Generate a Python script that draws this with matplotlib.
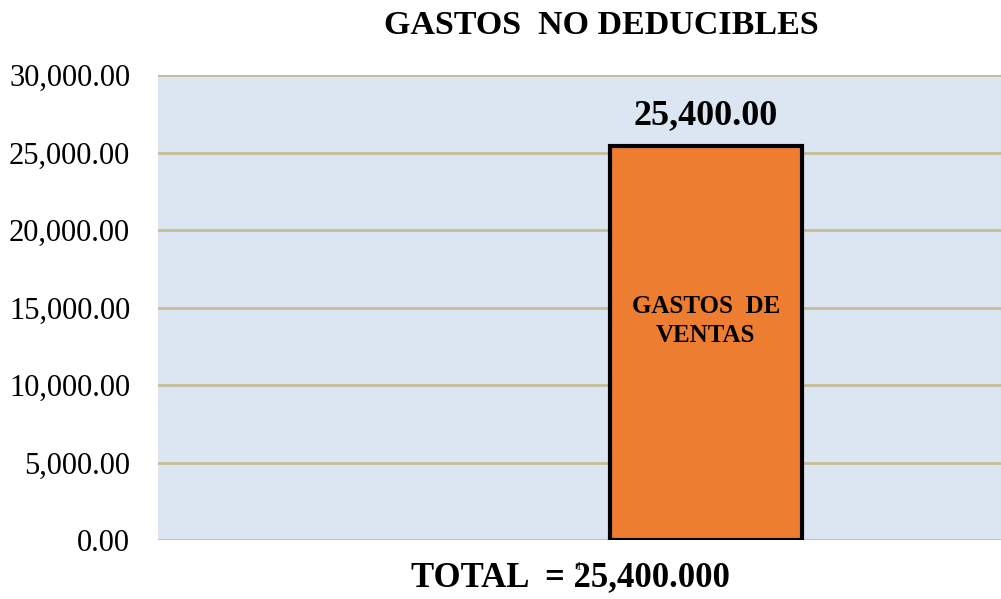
import matplotlib
matplotlib.use("Agg")
import matplotlib.pyplot as plt
from matplotlib.ticker import FuncFormatter

plt.rcParams['font.family'] = ['Liberation Serif', 'DejaVu Serif']

# data
categories = ["1"]
series_names = ["", "GASTOS  DE\nVENTAS"]
values = [0, 25400]
total_text = "TOTAL  = 25,400.000"
title = "GASTOS  NO DEDUCIBLES"

fig = plt.figure(figsize=(10.01, 5.99), dpi=100)
ax = fig.add_axes([158 / 1001, 1 - 540 / 599, 843 / 1001, 465 / 599])
ax.set_facecolor('#DCE6F2')

width = 0.228
offset = 0.15
x = 0
ax.bar(x + offset, values[1], width=width, color='#ED7D31',
       edgecolor='black', linewidth=3, zorder=3)

ax.set_xlim(-0.5, 0.5)
ax.set_ylim(0, 30000)
ax.set_yticks(range(0, 30001, 5000))
ax.yaxis.set_major_formatter(FuncFormatter(lambda v, p: f"{v:,.2f}"))
ax.set_xticks([x])
ax.set_xticklabels(categories, fontsize=9)
ax.tick_params(axis='x', length=0, pad=15, labelcolor='#404040')
ax.tick_params(axis='y', length=0, labelsize=22, pad=20)
ax.grid(axis='y', color='#C4BD97', linewidth=2, zorder=1)
for s in ax.spines.values():
    s.set_visible(False)

ax.text(x + offset, values[1] + 900, f"{values[1]:,.2f}", ha='center',
        va='bottom', fontsize=26, fontweight='bold', zorder=4)
# category label sits a bit above the middle of the bar
ax.text(x + offset, values[1] * 0.556, series_names[1], ha='center', va='center',
        fontsize=18, fontweight='bold', zorder=4, linespacing=1.35)

fig.text(601 / 1001, 1 - 25 / 599, title, ha='center', va='center',
         fontsize=24.5, fontweight='bold')
fig.text(570 / 1001, 1 - 578 / 599, total_text, ha='center', va='center',
         fontsize=25, fontweight='bold')

fig.savefig('out.png', dpi=100)
